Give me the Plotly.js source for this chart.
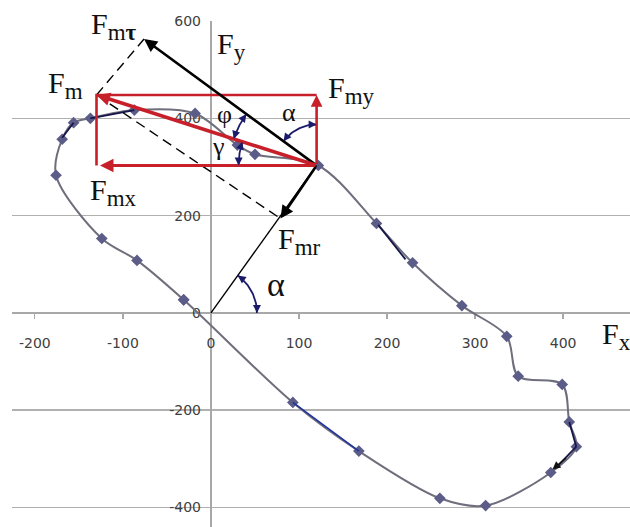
<!DOCTYPE html>
<html><head><meta charset="utf-8">
<script src="https://cdn.plot.ly/plotly-3.0.1.min.js"></script>
<style>html,body{margin:0;padding:0;background:#fff}#chart{width:630px;height:527px}</style>
</head><body><div id="chart"></div>
<script>
// Force hodograph (Fx, Fy)
const curveX = [-31,-84,-124,-176,-169,-156,-137,-87,-18,30,50,122,188,229,285,336,349,399,407,415,386,312,260,168,93,-31];
const curveY = [27,108,153,283,357,391,400,417,410,345,326,303,184,103,15,-48,-130,-147,-224,-275,-328,-396,-381,-284,-184,27];
// darker overlay segments along the curve
const blueSegX = [93,168];
const blueSegY = [-184,-284];
const darkSegX = [407,415,null,415,392,null,190,221,null,-156,-169,null,-137,-87];
const darkSegY = [-224,-275,null,-275,-318,null,181,110,null,391,360,null,400,417];
// axis ticks
const xTickVals = [-200,-100,0,100,200,300,400];
const yTickVals = [-400,-200,0,200,400,600];
// vector decomposition at point P
const P = [120, 303];
const Fm = [-250, 145];           // Fmx, Fmy components
const FmTauTip = [-76, 563];
const FmrFoot = [79, 194];

const W=630,H=527,mL=12,mR=0,mT=21,mB=0;
const xr=[-226,476], yr=[-440,600];
const kx=(W-mL-mR)/(xr[1]-xr[0]), ky=(H-mT-mB)/(yr[1]-yr[0]);
const fromPx=(px,py)=>[xr[0]+(px-mL)/kx, yr[1]-(py-mT)/ky];
const ang=v=>Math.atan2(v[1]*ky, v[0]*kx);

const FmTip=[P[0]+Fm[0], P[1]+Fm[1]];
const navy='#1b1b6b', red='#c8202a';

function arc(c, r, a0, a1){
  const xs=[],ys=[];
  for(let i=0;i<=30;i++){const a=a0+(a1-a0)*i/30; xs.push(c[0]+r*Math.cos(a)/kx); ys.push(c[1]+r*Math.sin(a)/ky);}
  return {xs,ys};
}
const arcs=[
  {c:[0,0], r:46, a0:0, a1:ang(P)},
  {c:P, r:41, a0:Math.PI/2, a1:ang([FmTauTip[0]-P[0],FmTauTip[1]-P[1]])},
  {c:P, r:87, a0:ang([FmTauTip[0]-P[0],FmTauTip[1]-P[1]]), a1:ang(Fm)},
  {c:P, r:78, a0:ang(Fm), a1:Math.PI}
];

const traces=[];
traces.push({x:curveX,y:curveY,mode:'lines+markers',line:{color:'#6e6e7c',width:2,shape:'spline',smoothing:0.9},
  marker:{symbol:'diamond',size:9,color:'#5c5c88'},hoverinfo:'skip'});
traces.push({x:blueSegX,y:blueSegY,mode:'lines',line:{color:'#2233a0',width:1.6},hoverinfo:'skip'});
traces.push({x:darkSegX,y:darkSegY,mode:'lines',line:{color:'#15154a',width:1.8},hoverinfo:'skip'});
// thin radial line O -> P
traces.push({x:[0,P[0]],y:[0,P[1]],mode:'lines',line:{color:'#000',width:1.4},hoverinfo:'skip'});
// dashed construction lines
traces.push({x:[FmTip[0],FmTauTip[0],null,FmTip[0],FmrFoot[0]],y:[FmTip[1],FmTauTip[1],null,FmTip[1],FmrFoot[1]],
  mode:'lines',line:{color:'#000',width:1.4,dash:'10px,6px'},hoverinfo:'skip'});
// rectangle top and left edges
traces.push({x:[FmTip[0],FmTip[0],P[0]],y:[P[1],FmTip[1],FmTip[1]],mode:'lines',line:{color:red,width:2.6},hoverinfo:'skip'});
// angle arcs
arcs.forEach(a=>{const g=arc(a.c,a.r,a.a0,a.a1);traces.push({x:g.xs,y:g.ys,mode:'lines',line:{color:navy,width:1.8},hoverinfo:'skip'});});

const ann=[];
function lbl(px,py,text,size,anchor){const d=fromPx(px,py);ann.push({x:d[0],y:d[1],xref:'x',yref:'y',text:text,showarrow:false,
  xanchor:anchor||'left',yanchor:'middle',font:{family:'Liberation Serif, Times New Roman, serif',size:size,color:'#111'}});}
const sub=(t)=>"<sub><span style='font-size:23px'>"+t+"</span></sub>";
lbl(89,26,'F'+sub('m<b>τ</b>'),30);
lbl(215,46,'F'+sub('y'),30);
lbl(46,85,'F'+sub('m'),30);
lbl(326,90,'F'+sub('my'),30);
lbl(88,192,'F'+sub('mx'),30);
lbl(276,241,'F'+sub('mr'),30);
lbl(600,336,'F'+sub('x'),30);
lbl(276,284,'α',34,'center');
lbl(224,114,'φ',26,'center');
lbl(289,112,'α',26,'center');
lbl(218,146,'γ',26,'center');

function arrow(head,tail,color,w,size){ann.push({x:head[0],y:head[1],ax:tail[0],ay:tail[1],xref:'x',yref:'y',axref:'x',ayref:'y',
  text:'',showarrow:true,arrowhead:2,arrowsize:size,arrowwidth:w,arrowcolor:color,standoff:0,startstandoff:0});}
arrow(FmTauTip,P,'#000',2.6,1.0);
arrow(FmrFoot,P,'#000',2.6,1.0);
arrow([FmTip[0]+4,P[1]],P,red,3,0.9);
arrow([P[0],FmTip[1]],P,red,2.6,0.9);
arrow(FmTip,P,red,3.6,0.75);
arrow([388,-322],[405,-296],'#111',1.6,1);
// arc arrowheads
arcs.forEach(a=>{
  [[a.a1,1],[a.a0,-1]].forEach(([t,s])=>{
    const ex=a.c[0]+a.r*Math.cos(t)/kx, ey=a.c[1]+a.r*Math.sin(t)/ky;
    const tx=-Math.sin(t)*s, ty=Math.cos(t)*s; const L=7;
    ann.push({x:ex,y:ey,xref:'x',yref:'y',ax:-tx*L,ay:ty*L,text:'',showarrow:true,arrowhead:2,arrowsize:1,arrowwidth:1.6,arrowcolor:navy,standoff:0});
  });
});

const layout={
  width:W,height:H,margin:{l:mL,r:mR,t:mT,b:mB},paper_bgcolor:'#fff',plot_bgcolor:'#fff',showlegend:false,
  xaxis:{range:xr,anchor:'free',position:(0-yr[0])/(yr[1]-yr[0]),showgrid:false,zeroline:true,zerolinecolor:'#a8a8a8',zerolinewidth:1.6,
    showline:false,ticks:'outside',ticklen:5,tickwidth:1.2,tickcolor:'#a8a8a8',tickvals:xTickVals,ticktext:xTickVals.map(String),
    tickfont:{family:'DejaVu Sans, sans-serif',size:14,color:'#404040'},ticklabelstandoff:12,layer:'below traces',fixedrange:true},
  yaxis:{range:yr,anchor:'free',position:(0-xr[0])/(xr[1]-xr[0]),side:'left',showgrid:true,gridcolor:'#b0b0b0',gridwidth:1.6,
    zeroline:true,zerolinecolor:'#a8a8a8',zerolinewidth:1.6,showline:false,ticks:'',tickvals:yTickVals,ticktext:yTickVals.map(String),
    tickfont:{family:'DejaVu Sans, sans-serif',size:14,color:'#404040'},ticklabelstandoff:10,layer:'below traces',fixedrange:true},
  annotations:ann
};
Plotly.newPlot('chart',traces,layout,{staticPlot:true});
</script></body></html>
